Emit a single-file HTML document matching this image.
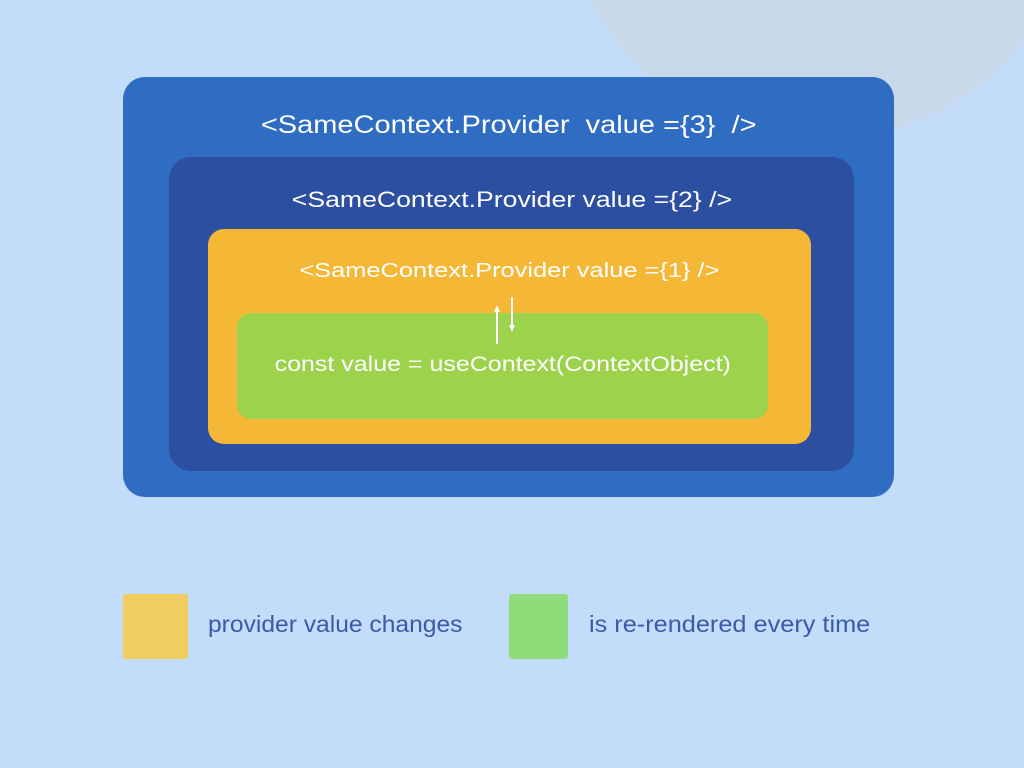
<!DOCTYPE html>
<html><head><style>
body{margin:0;width:1024px;height:768px;overflow:hidden;background:#c2dcfa;position:relative;font-family:"Liberation Sans",sans-serif;}
.c{position:absolute;left:560px;top:-380px;width:520px;height:520px;border-radius:50%;background:#c8d9ea;}
.b{position:absolute;border-radius:22px;}
.t{position:absolute;color:#fff;text-align:center;white-space:nowrap;}
.t span{display:inline-block;}
</style></head><body>
<div class="c"></div>
<div class="b" style="left:123px;top:77px;width:771px;height:420px;background:#2e6dc2;"></div>
<div class="t" style="left:123px;width:771px;top:111px;font-size:25px;"><span style="transform:scaleX(1.16)">&lt;SameContext.Provider&nbsp; value ={3}&nbsp; /&gt;</span></div>
<div class="b" style="left:169px;top:157px;width:685px;height:314px;background:#2d4fa1;"></div>
<div class="t" style="left:169px;width:685px;top:187px;font-size:22px;"><span style="transform:scaleX(1.21)">&lt;SameContext.Provider value ={2} /&gt;</span></div>
<div class="b" style="left:208px;top:229px;width:603px;height:215px;background:#f5b736;border-radius:16px;"></div>
<div class="t" style="left:208px;width:603px;top:260px;font-size:20px;"><span style="transform:scaleX(1.27)">&lt;SameContext.Provider value ={1} /&gt;</span></div>
<div class="b" style="left:237px;top:313px;width:531px;height:106px;background:#9cd24c;border-radius:14px;"></div>
<div class="t" style="left:237px;width:531px;top:353px;font-size:21px;"><span style="transform:scaleX(1.19)">const value = useContext(ContextObject)</span></div>
<svg style="position:absolute;left:0;top:0" width="1024" height="768">
<line x1="497" y1="344" x2="497" y2="310" stroke="#fff" stroke-width="2"/>
<polygon points="494,312 500,312 497,305" fill="#fff"/>
<line x1="512" y1="297" x2="512" y2="327" stroke="#fff" stroke-width="2"/>
<polygon points="509,325 515,325 512,332" fill="#fff"/>
</svg>
<div class="b" style="left:123px;top:594px;width:65px;height:65px;background:#efcd5e;border-radius:3px;"></div>
<div class="t" style="left:208px;top:611px;font-size:23px;color:#3b5aa8;"><span style="transform:scaleX(1.07);transform-origin:left">provider value changes</span></div>
<div class="b" style="left:509px;top:594px;width:59px;height:65px;background:#8edc7a;border-radius:3px;"></div>
<div class="t" style="left:589px;top:611px;font-size:23px;color:#3b5aa8;"><span style="transform:scaleX(1.1);transform-origin:left">is re-rendered every time</span></div>
</body></html>
